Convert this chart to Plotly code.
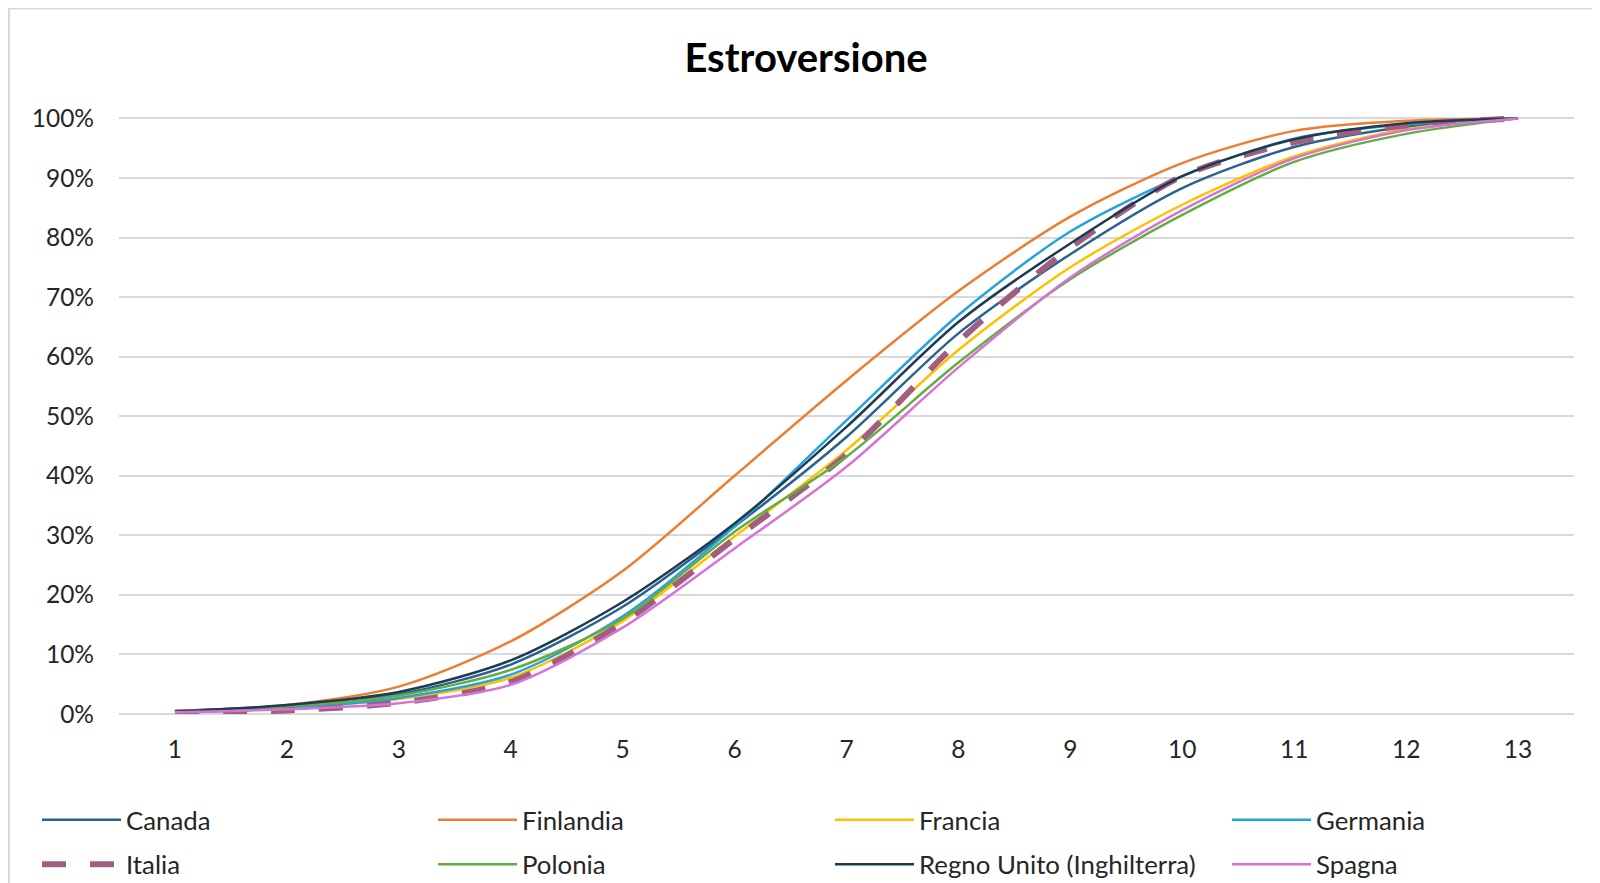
import plotly.graph_objects as go

# punteggi 1..13, quota cumulata per paese
punteggi = list(range(1, 14))

canada = [0.005, 0.014, 0.033, 0.083, 0.180, 0.315, 0.465, 0.639, 0.772, 0.883, 0.952, 0.986, 1.0]
finlandia = [0.003, 0.015, 0.046, 0.122, 0.240, 0.400, 0.560, 0.710, 0.835, 0.925, 0.979, 0.996, 1.0]
francia = [0.002, 0.010, 0.025, 0.061, 0.156, 0.298, 0.443, 0.611, 0.750, 0.855, 0.936, 0.982, 1.0]
germania = [0.002, 0.010, 0.027, 0.066, 0.164, 0.315, 0.493, 0.670, 0.810, 0.903, 0.966, 0.990, 1.0]
italia = [0.002, 0.006, 0.019, 0.054, 0.153, 0.294, 0.436, 0.625, 0.783, 0.903, 0.960, 0.988, 1.0]
polonia = [0.005, 0.013, 0.031, 0.074, 0.160, 0.306, 0.432, 0.590, 0.730, 0.838, 0.927, 0.974, 1.0]
regno_unito = [0.004, 0.015, 0.037, 0.090, 0.188, 0.320, 0.482, 0.658, 0.790, 0.903, 0.965, 0.992, 1.0]
spagna = [0.003, 0.008, 0.018, 0.049, 0.145, 0.278, 0.415, 0.582, 0.733, 0.846, 0.933, 0.980, 1.0]

# (nome, valori, colore, dash, spessore, colonna legenda)
serie = [
    ("Canada", canada, "#2A6391", None, 2.5, "legend"),
    ("Finlandia", finlandia, "#ED7D31", None, 2.5, "legend2"),
    ("Francia", francia, "#FFC000", None, 2.5, "legend3"),
    ("Germania", germania, "#26A3DB", None, 2.5, "legend4"),
    ("Italia", italia, "#9E5F80", "24px,24px", 6, "legend"),
    ("Polonia", polonia, "#62AE41", None, 2.5, "legend2"),
    ("Regno Unito (Inghilterra)", regno_unito, "#1F3B50", None, 2.5, "legend3"),
    ("Spagna", spagna, "#D872D6", None, 2.5, "legend4"),
]

FONT = "Lato"
# la pagina aggiunge 8px di margine; l'altezza extra resta fuori dalla finestra
W, H = 1592, 920
L, R, T, B = 111, 26, 108, 214
PW, PH = W - L - R, H - T - B


def colonna(x_px):
    # colonne della legenda in coordinate paper, sotto il grafico
    return dict(
        orientation="v", xref="paper", yref="paper",
        x=(x_px - L) / PW, xanchor="left",
        y=(H - B - 834.5) / PH, yanchor="middle",
        font=dict(family=FONT, size=25.8, color="#262626"),
        itemwidth=79, tracegroupgap=8,
        bgcolor="rgba(0,0,0,0)",
    )


fig = go.Figure()
for nome, valori, colore, dash, w, leg in serie:
    fig.add_trace(go.Scatter(
        x=punteggi, y=valori, name=nome, mode="lines",
        line=dict(color=colore, width=w, dash=dash, shape="spline", smoothing=0.8),
        legend=leg, legendgroup=nome,
    ))

fig.update_layout(
    width=W, height=H,
    paper_bgcolor="white", plot_bgcolor="white",
    margin=dict(l=L, r=R, t=T, b=B),
    title=dict(
        text="<b>Estroversione</b>", x=798 / W, xanchor="center",
        y=1 - 50 / H, yanchor="middle",
        font=dict(family=FONT, size=40, color="#000000"),
    ),
    legend=colonna(29),
    legend2=colonna(425),
    legend3=colonna(822),
    legend4=colonna(1219),
    xaxis=dict(
        range=[0.5, 13.5], dtick=1, tick0=1, showgrid=False, zeroline=False,
        showline=False, ticks="", ticklabelstandoff=18,
        tickfont=dict(family=FONT, size=24.5, color="#262626"),
    ),
    yaxis=dict(
        range=[0, 1.004], dtick=0.1, tick0=0, tickformat=".0%",
        showgrid=True, gridcolor="#D9D9D9", gridwidth=2,
        zeroline=True, zerolinecolor="#D9D9D9", zerolinewidth=2,
        showline=False, ticks="", ticklabelstandoff=24,
        tickfont=dict(family=FONT, size=24.5, color="#262626"),
    ),
    shapes=[dict(
        type="rect", xref="paper", yref="paper", layer="below",
        x0=(1 - L) / PW, x1=1.2, y0=-0.6, y1=(H - B - 0.5) / PH,
        line=dict(color="#D9D9D9", width=2), fillcolor="rgba(0,0,0,0)",
    )],
)

fig.write_html("out.html")
